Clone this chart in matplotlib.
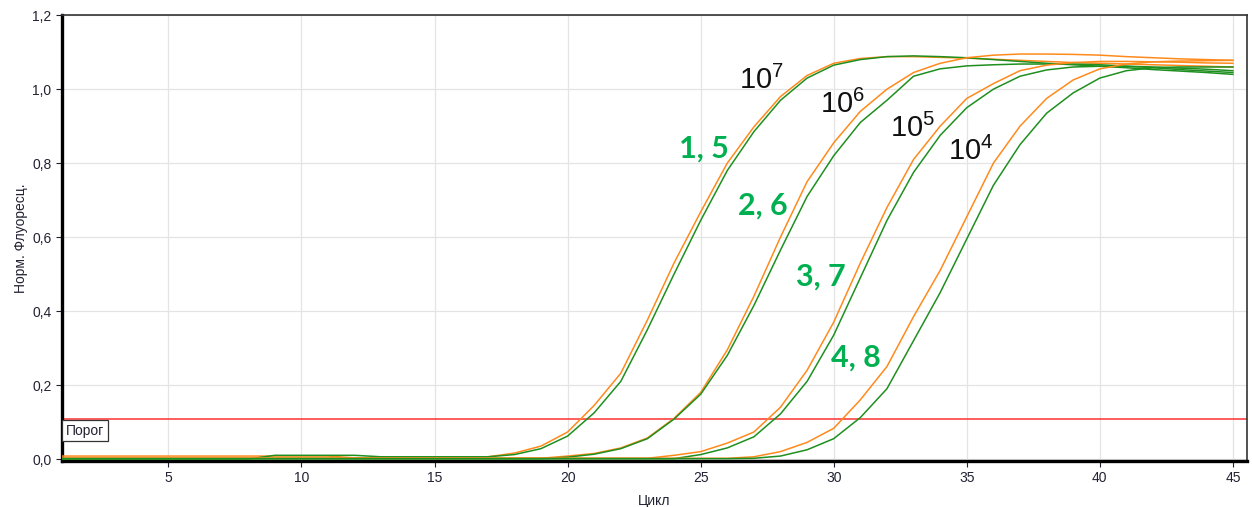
import matplotlib
matplotlib.use("Agg")
import matplotlib.pyplot as plt
import numpy as np

# ── data ────────────────────────────────────────────────────────────────
cycles = list(range(1, 46))

# 10^7 (lanes 1, 5)
o7 = [0.008] * 11 + [0.003] * 5 + [
    0.006, 0.016, 0.035, 0.073, 0.145, 0.232, 0.376, 0.53, 0.668, 0.80,
    0.898, 0.98, 1.037, 1.07, 1.083, 1.088, 1.088, 1.086, 1.084, 1.081,
    1.078, 1.075, 1.072, 1.07, 1.068, 1.066, 1.064, 1.062, 1.06]
g7 = [0.0] * 8 + [0.01] * 4 + [0.006] * 5 + [
    0.012, 0.028, 0.062, 0.125, 0.21, 0.35, 0.50, 0.645, 0.78,
    0.885, 0.97, 1.03, 1.065, 1.08, 1.088, 1.09, 1.088, 1.085, 1.08,
    1.075, 1.07, 1.066, 1.062, 1.058, 1.053, 1.049, 1.045, 1.04]

# 10^6 (lanes 2, 6)
o6 = [0.002] * 19 + [
    0.008, 0.015, 0.03, 0.057, 0.11, 0.18, 0.295, 0.44, 0.60, 0.75,
    0.855, 0.94, 1.0, 1.045, 1.07, 1.085, 1.092, 1.095, 1.095, 1.094,
    1.092, 1.088, 1.085, 1.082, 1.08, 1.078]
g6 = [0.001] * 19 + [
    0.005, 0.013, 0.028, 0.055, 0.108, 0.175, 0.28, 0.415, 0.565, 0.71,
    0.82, 0.91, 0.97, 1.035, 1.055, 1.063, 1.066, 1.068, 1.068, 1.068,
    1.066, 1.062, 1.058, 1.053, 1.049, 1.045]

# 10^5 (lanes 3, 7)
o5 = [0.002] * 23 + [
    0.01, 0.02, 0.043, 0.073, 0.14, 0.24, 0.37, 0.53, 0.68, 0.81,
    0.90, 0.975, 1.015, 1.05, 1.065, 1.072, 1.075, 1.075, 1.074, 1.073,
    1.071, 1.07]
g5 = [0.001] * 24 + [
    0.012, 0.03, 0.06, 0.122, 0.21, 0.335, 0.49, 0.645, 0.775, 0.875,
    0.95, 1.0, 1.035, 1.052, 1.06, 1.062, 1.062, 1.06, 1.057, 1.054,
    1.05]

# 10^4 (lanes 4, 8)
o4 = [0.002] * 26 + [
    0.006, 0.02, 0.045, 0.083, 0.16, 0.25, 0.385, 0.51, 0.655, 0.80,
    0.90, 0.975, 1.025, 1.055, 1.068, 1.074, 1.076, 1.077, 1.078]
g4 = [0.001] * 26 + [
    0.002, 0.008, 0.025, 0.055, 0.112, 0.19, 0.32, 0.45, 0.595, 0.74,
    0.85, 0.935, 0.99, 1.03, 1.05, 1.058, 1.06, 1.06, 1.06]

threshold = 0.108

dilution_labels = ["10^7", "10^6", "10^5", "10^4"]
dilution_pos = [(26.45, 1.0), (29.5, 0.935), (32.1, 0.870), (34.3, 0.808)]
lane_labels = ["1, 5", "2, 6", "3, 7", "4, 8"]
lane_pos = [(24.2, 0.814), (26.4, 0.66), (28.6, 0.468), (29.9, 0.251)]

xticks = [5, 10, 15, 20, 25, 30, 35, 40, 45]
yticks = [0.0, 0.2, 0.4, 0.6, 0.8, 1.0, 1.2]
ytick_labels = ["0,0", "0,2", "0,4", "0,6", "0,8", "1,0", "1,2"]

# ── style ───────────────────────────────────────────────────────────────
plt.rcParams["font.family"] = ["Liberation Sans", "DejaVu Sans"]
plt.rcParams["mathtext.fontset"] = "custom"
plt.rcParams["mathtext.rm"] = "Lato"

ORANGE = "#ff8a1c"
GREEN = "#1f8f1f"
LABEL_GREEN = "#00b050"
TEXT = "#222233"

fig = plt.figure(figsize=(12.52, 5.07), dpi=100)
ax = fig.add_axes([0.0495, 0.0907, 0.9465, 0.8793])

pairs = [(o7, g7), (o6, g6), (o5, g5), (o4, g4)]
for o, g in pairs:
    ax.plot(cycles, o, color=ORANGE, lw=1.1, zorder=3)
    ax.plot(cycles, g, color=GREEN, lw=1.1, zorder=3)

ax.axhline(threshold, color="#ff3030", lw=1.1, zorder=2)
ax.text(1.15, threshold - 0.012, "Порог", fontsize=10, ha="left", va="top",
        color=TEXT,
        bbox=dict(boxstyle="square,pad=0.25", fc="white", ec="#333333", lw=0.9),
        zorder=5)

for lab, (x, y) in zip(dilution_labels, dilution_pos):
    base, exp = lab.split("^")
    ax.text(x, y, r"$\mathregular{%s^{%s}}$" % (base, exp), fontsize=21,
            ha="left", va="baseline", color="#111111", zorder=6)

for lab, (x, y) in zip(lane_labels, lane_pos):
    ax.text(x, y, lab, fontsize=22, fontweight="bold", family="Lato",
            ha="left", va="baseline", color=LABEL_GREEN, zorder=6)

# ── cosmetics ───────────────────────────────────────────────────────────
ax.set_xlim(1, 45.53)
ax.set_ylim(-0.0054, 1.2)
ax.set_xticks(xticks)
ax.set_yticks(yticks)
ax.set_yticklabels(ytick_labels)
ax.tick_params(labelsize=10, colors=TEXT, length=4, width=0.8,
               direction="out")
ax.grid(color="#e4e4e4", lw=0.9, zorder=0)
ax.set_axisbelow(True)

for side in ("left", "bottom"):
    ax.spines[side].set_linewidth(2.4)
    ax.spines[side].set_color("black")
for side in ("top", "right"):
    ax.spines[side].set_linewidth(1.2)
    ax.spines[side].set_color("#333333")

ax.set_xlabel("Цикл", fontsize=10, color=TEXT, labelpad=6)
ax.set_ylabel("Норм. Флуоресц.", fontsize=10, color=TEXT, labelpad=3)

fig.savefig("out.png", dpi=100)
